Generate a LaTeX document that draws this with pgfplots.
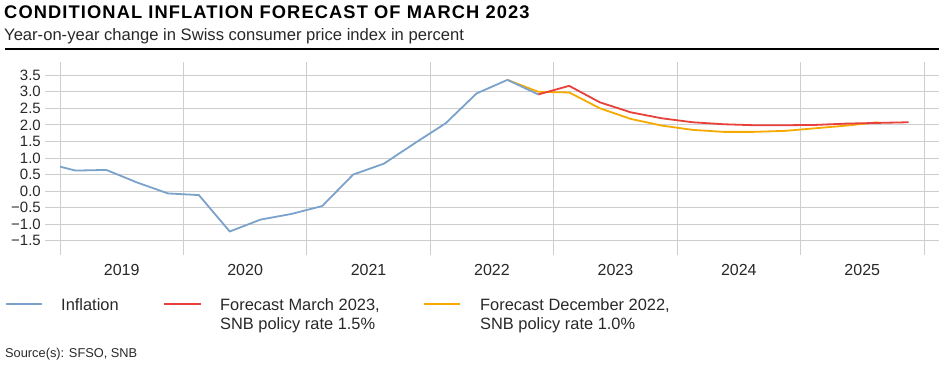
\documentclass[border=0pt]{standalone}
\usepackage{pgfplots}
\pgfplotsset{compat=1.18}
\usepackage{fontspec}
\setmainfont{Liberation Sans}
\definecolor{infl}{RGB}{122,162,202}
\definecolor{fmar}{RGB}{232,64,58}
\definecolor{fdec}{RGB}{246,170,0}
\definecolor{gridc}{RGB}{205,205,205}
\definecolor{zeroc}{RGB}{150,150,150}
\definecolor{txt}{RGB}{40,40,40}
\begin{document}
\begin{tikzpicture}[x=1pt,y=-1pt]
\useasboundingbox (0,0) rectangle (948,367);
% titles
\node[anchor=base west, inner sep=0pt, font=\fontsize{18.3}{20}\selectfont\bfseries\addfontfeature{LetterSpace=6}] at (4,18) {CONDITIONAL INFLATION FORECAST OF MARCH 2023};
\node[anchor=base west, inner sep=0pt, font=\fontsize{16.6}{18}\selectfont, text=txt] at (4,40) {Year-on-year change in Swiss consumer price index in percent};
\draw[line width=1.4pt, black] (5,49) -- (939,49);
\begin{axis}[
  at={(45pt,-255pt)}, anchor=south west, scale only axis,
  width=894pt, height=193pt,
  xmin=2018.8785, xmax=2026.1215, ymin=-1.93, ymax=3.90,
  axis line style={draw=none},
  major tick length=0pt, minor tick length=0pt,
  xtick={2019.5,2020.5,2021.5,2022.5,2023.5,2024.5,2025.5},
  xticklabels={2019,2020,2021,2022,2023,2024,2025},
  minor xtick={2019,2020,2021,2022,2023,2024,2025,2026},
  xminorgrids=true, xmajorgrids=false,
  minor grid style={color=gridc, line width=0.9pt},
  ytick={-1.5,-1,-0.5,0,0.5,1,1.5,2,2.5,3,3.5},
  yticklabels={−1.5,−1.0,−0.5,0.0,0.5,1.0,1.5,2.0,2.5,3.0,3.5},
  ymajorgrids=true,
  major grid style={color=gridc, line width=0.9pt},
  extra y ticks={0}, extra y tick labels={},
  extra y tick style={grid style={color=zeroc, line width=1.4pt}},
  yticklabel style={anchor=east, inner sep=0pt, xshift=-4pt, font=\fontsize{15}{16}\selectfont, text=txt},
  xticklabel style={anchor=base, inner sep=0pt, yshift=-20pt, font=\fontsize{16}{17}\selectfont, text=txt},
  line join=round,
]
\addplot[fdec, line width=1.8pt] coordinates {
 (2022.625,3.36) (2022.875,3.00) (2023.125,2.98) (2023.375,2.50) (2023.625,2.18)
 (2023.875,1.98) (2024.125,1.85) (2024.375,1.79) (2024.625,1.79) (2024.875,1.82)
 (2025.125,1.90) (2025.375,1.98) (2025.625,2.08)};
\addplot[fmar, line width=1.8pt] coordinates {
 (2022.875,2.92) (2023.125,3.18) (2023.375,2.68) (2023.625,2.38) (2023.875,2.20)
 (2024.125,2.08) (2024.375,2.02) (2024.625,1.99) (2024.875,1.99) (2025.125,2.00)
 (2025.375,2.04) (2025.625,2.06) (2025.875,2.08)};
\addplot[infl, line width=1.8pt] coordinates {
 (2019.0,0.74) (2019.125,0.62) (2019.375,0.64) (2019.625,0.26) (2019.875,-0.07)
 (2020.125,-0.12) (2020.375,-1.22) (2020.625,-0.86) (2020.875,-0.69)
 (2021.125,-0.45) (2021.375,0.50) (2021.625,0.83) (2021.875,1.45)
 (2022.125,2.05) (2022.375,2.95) (2022.625,3.36) (2022.875,2.92)};
\end{axis}
% legend
\draw[infl, line width=1.8pt] (6,304) -- (42,304);
\node[anchor=base west, inner sep=0pt, font=\fontsize{16.4}{18}\selectfont, text=txt] at (61,310) {Inflation};
\draw[fmar, line width=1.8pt] (164,304) -- (201,304);
\node[anchor=base west, inner sep=0pt, font=\fontsize{16.4}{18}\selectfont, text=txt] at (220,310) {Forecast March 2023,};
\node[anchor=base west, inner sep=0pt, font=\fontsize{16.4}{18}\selectfont, text=txt] at (220,329) {SNB policy rate 1.5\%};
\draw[fdec, line width=1.8pt] (424,304) -- (460,304);
\node[anchor=base west, inner sep=0pt, font=\fontsize{16.4}{18}\selectfont, text=txt] at (480,310) {Forecast December 2022,};
\node[anchor=base west, inner sep=0pt, font=\fontsize{16.4}{18}\selectfont, text=txt] at (480,329) {SNB policy rate 1.0\%};
\node[anchor=base west, inner sep=0pt, font=\fontsize{12.8}{14}\selectfont, text=txt] at (5,357) {Source(s): SFSO, SNB};
\end{tikzpicture}
\end{document}
